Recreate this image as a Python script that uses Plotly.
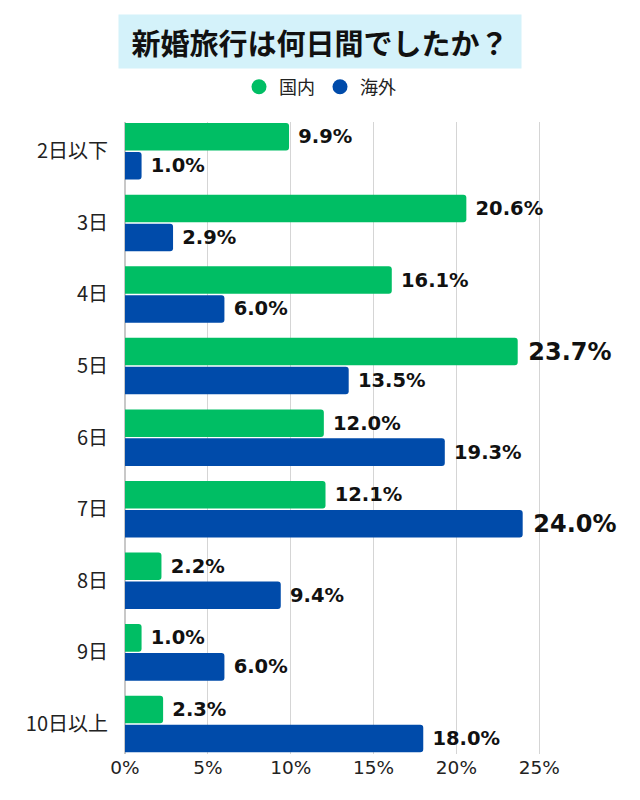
import plotly.graph_objects as go

categories = ["2日以下", "3日", "4日", "5日", "6日", "7日", "8日", "9日", "10日以上"]
domestic = [9.9, 20.6, 16.1, 23.7, 12.0, 12.1, 2.2, 1.0, 2.3]
overseas = [1.0, 2.9, 6.0, 13.5, 19.3, 24.0, 9.4, 6.0, 18.0]
series_names = ["国内", "海外"]
colors = ["#00BE64", "#004BAA"]
title_text = "新婚旅行は何日間でしたか？"
x_ticks = [0, 5, 10, 15, 20, 25]

num_font = "DejaVu Sans, sans-serif"
jp_font = "Noto Sans CJK JP, sans-serif"

# page body has an 8px offset; positions below are compensated
OFF = 8
W, H = 640, 800
L, R, T, B = 125 - OFF, 20, 122 - OFF, H - (754 - OFF)
plot_w = W - L - R
plot_h = H - T - B
px_per_pct = 16.57

fig = go.Figure()
for name, vals, col in zip(series_names, [domestic, overseas], colors):
    mx = max(vals)
    sizes = [27 if v == mx else 19.5 for v in vals]
    fig.add_trace(go.Bar(
        y=categories, x=vals, orientation="h", name=name,
        marker=dict(color=col, line=dict(width=0)),
        text=[f" <b>{v:.1f}%</b>" for v in vals],
        textposition="outside", cliponaxis=False,
        textfont=dict(family=num_font, size=sizes, color="#111"),
        showlegend=False, hoverinfo="skip",
    ))
for name, col in zip(series_names, colors):
    fig.add_trace(go.Scatter(
        x=[None], y=[None], mode="markers", name=name,
        marker=dict(color=col, size=15, symbol="circle"),
    ))

fig.add_annotation(
    text=f"<b>{title_text}</b>", xref="paper", yref="paper",
    x=(320 - OFF - L) / plot_w, y=(H - B - (41.5 - OFF)) / plot_h,
    xanchor="center", yanchor="middle", showarrow=False,
    width=400, height=51, bgcolor="#D4F2FA",
    font=dict(family=jp_font, size=29, color="#111"),
)

fig.update_layout(
    width=W, height=H,
    margin=dict(l=L, r=R, t=T, b=B, autoexpand=False),
    paper_bgcolor="white", plot_bgcolor="white",
    barmode="group", bargap=0.19, bargroupgap=0.05,
    barcornerradius=3,
    showlegend=True,
    legend=dict(orientation="h", xref="container", yref="container",
                x=(320 - OFF) / W, xanchor="center", y=1 - (87 - OFF) / H,
                yanchor="middle",
                font=dict(family=jp_font, size=18, color="#222"),
                itemwidth=30, traceorder="normal"),
    font=dict(family=jp_font, color="#333"),
)
fig.update_xaxes(range=[0, plot_w / px_per_pct], tickvals=x_ticks,
                 ticktext=[f"{t}%" for t in x_ticks],
                 showgrid=True, gridcolor="#D5D5D5", gridwidth=1,
                 zeroline=True, zerolinecolor="#C8C8C8",
                 tickfont=dict(family="DejaVu Sans, sans-serif", size=18.5, color="#222"),
                 ticks="", automargin=False, fixedrange=True)
fig.update_yaxes(range=[8.42, -0.41], showgrid=False,
                 tickfont=dict(family=jp_font, size=20, color="#222"),
                 ticks="", ticklabelstandoff=16, automargin=False)

fig.write_html("out.html")
